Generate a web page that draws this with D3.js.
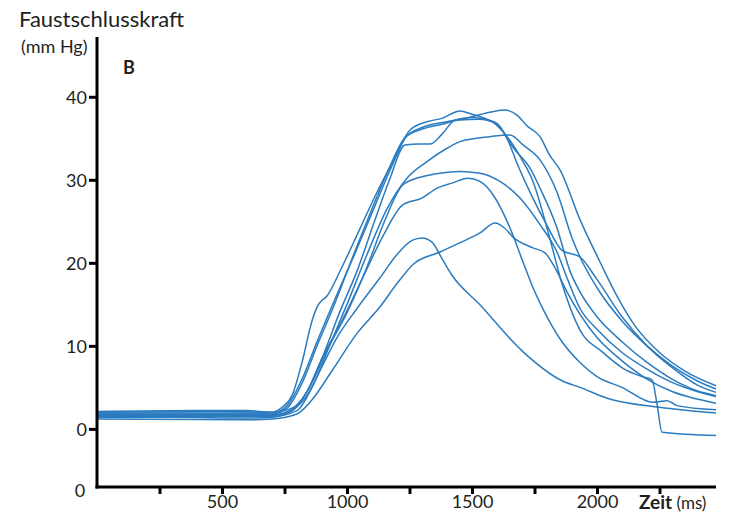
<!DOCTYPE html>
<html><head><meta charset="utf-8">
<script src="https://cdn.jsdelivr.net/npm/d3@7"></script>
<style>
body{margin:0;background:#fff;}
text{font-family:Lato,"Open Sans",sans-serif;fill:#231f20;}
</style></head>
<body><svg id="c" width="729" height="513"></svg>
<script>
// time (ms) vs. Faustschlusskraft (mm Hg), one array per trial
const trialA = [[0,1.4],[300,1.4],[600,1.3],[700,1.4],[780,2.2],[840,4],[900,7.5],[960,11],[1040,14.5],[1132,18.2],[1200,21],[1260,22.7],[1300,23],[1340,22.5],[1380,20.5],[1420,18.5],[1530,15],[1700,9.4],[1860,5.8],[1932,5.0],[2040,3.7],[2250,2.6],[2476,1.9]];
const trialB = [[0,1.2],[600,1.1],[700,1.2],[800,1.8],[860,3.5],[940,7],[1040,11.5],[1132,14.7],[1200,17.5],[1264,19.8],[1372,21.3],[1450,22.4],[1532,23.6],[1592,24.8],[1630,24.2],[1664,23.1],[1744,21.8],[1792,21.2],[1830,19.5],[1880,16.5],[1932,13.8],[2000,11],[2100,8.2],[2200,6],[2300,4.5],[2400,3.6],[2476,3.1]];
const trialC = [[0,2.1],[400,2.2],[600,2.2],[700,2.0],[780,2.5],[840,4.5],[900,8.5],[980,13],[1060,18],[1140,23],[1224,27],[1300,27.8],[1360,29],[1420,29.6],[1484,30.2],[1532,29.8],[1584,28.2],[1652,24.2],[1704,20.1],[1744,17],[1800,13.5],[1860,10.5],[1932,8.0],[2000,6.3],[2100,5],[2224,3.2],[2280,3.4],[2320,2.8],[2476,2.3]];
const trialD = [[0,1.7],[700,1.7],[790,2.5],[850,5],[920,9.5],[1000,14],[1080,19.5],[1150,25],[1224,29.4],[1304,30.4],[1372,30.8],[1450,31],[1532,30.8],[1612,29.8],[1692,27.8],[1772,24.6],[1840,21.3],[1880,18.2],[1932,14.5],[2000,12],[2100,9.2],[2200,7.2],[2300,5.6],[2400,4.5],[2476,3.9]];
const trialE = [[0,1.5],[700,1.5],[800,2.2],[860,5],[930,10],[1000,15],[1080,21],[1160,26.5],[1240,30.2],[1320,32.2],[1400,33.8],[1452,34.6],[1572,35.2],[1652,35.4],[1704,34.2],[1772,32.4],[1840,28.5],[1900,23],[1932,20.7],[2000,17],[2100,13],[2200,10],[2300,7.6],[2400,5.8],[2476,4.8]];
const trialF = [[0,2.0],[500,2.1],[700,2.0],[740,2.6],[780,4],[820,8],[860,13],[884,14.9],[920,16],[980,19.5],[1050,24],[1120,28.5],[1180,32],[1252,36],[1320,37],[1380,37.4],[1452,38.3],[1500,37.9],[1532,37.6],[1612,36.3],[1664,33.9],[1732,31.4],[1772,29],[1840,24.2],[1892,19],[1932,16.5],[2000,13.5],[2100,10.5],[2200,8],[2300,6],[2400,4.6],[2476,4.0]];
const trialG = [[0,1.9],[700,1.9],[760,2.8],[820,6],[880,10.5],[950,15.5],[1030,21],[1100,26],[1170,31],[1240,35.3],[1300,36.3],[1400,37],[1500,37.6],[1580,38.2],[1632,38.4],[1680,37.8],[1720,36.5],[1772,35.2],[1810,33],[1852,31.2],[1932,25.2],[2012,20.1],[2080,16],[2150,12.5],[2250,9.2],[2350,7],[2476,5.2]];
const trialH = [[0,1.6],[700,1.6],[780,2.2],[840,4.5],[900,8.5],[970,14],[1040,19],[1110,25],[1170,30],[1232,34.2],[1290,34.3],[1332,34.3],[1380,35.5],[1432,37.2],[1500,37.5],[1560,37.2],[1600,36.8],[1640,35],[1680,32],[1740,28],[1800,24.5],[1860,21.5],[1932,20.7],[2000,18],[2100,13.5],[2200,10],[2300,7.4],[2400,5.3],[2476,4.4]];
const trialI = [[0,1.8],[700,1.8],[760,2.5],[820,5.5],[880,10],[950,15],[1020,20.5],[1100,26.5],[1170,31.5],[1230,35],[1290,36],[1380,36.7],[1450,37.2],[1530,37.3],[1580,37],[1624,35.8],[1704,32.2],[1744,29.8],[1800,24.2],[1860,17.5],[1932,11.9],[2020,9.3],[2104,7.3],[2180,6.3],[2220,5.9],[2240,3],[2260,-0.4],[2476,-0.8]];
const trials = [trialA, trialB, trialC, trialD, trialE, trialF, trialG, trialH, trialI];

const yTicks = [0, 10, 20, 30, 40];
const xMajorTicks = [500, 1000, 1500, 2000];
const xAllTicks = [250, 500, 750, 1000, 1250, 1500, 1750, 2000, 2250];
const xDomain = [0, 2476];
const yDomain = [-7, 47.2];

const svg = d3.select("#c");
const x = d3.scaleLinear().domain(xDomain).range([97, 716]);
const y = d3.scaleLinear().domain(yDomain).range([487, 37]);

const line = d3.line().x(d => x(d[0])).y(d => y(d[1])).curve(d3.curveMonotoneX);
svg.append("g").selectAll("path").data(trials).join("path")
  .attr("d", line).attr("fill", "none")
  .attr("stroke", "#2a7bbf").attr("stroke-width", 1.5).attr("stroke-linejoin","round");

// y axis
const yAxis = d3.axisLeft(y).tickValues(yTicks).tickSize(8).tickPadding(2).tickFormat(d3.format("d"));
const gy = svg.append("g").attr("transform", `translate(${x(0)},0)`).call(yAxis);
gy.select(".domain").remove();
gy.selectAll(".tick line").attr("stroke", "#000").attr("stroke-width", 3);
gy.selectAll(".tick text").attr("font-size", 18).attr("fill","#231f20").attr("dy","0.35em");
svg.append("line").attr("x1", x(0)).attr("x2", x(0)).attr("y1", y(yDomain[1])).attr("y2", y(yDomain[0]) + 1.5)
  .attr("stroke", "#000").attr("stroke-width", 3);

// x axis
const xAxis = d3.axisBottom(x).tickValues(xAllTicks).tickSize(7).tickPadding(1)
  .tickFormat(d => xMajorTicks.includes(d) ? d : "");
const gx = svg.append("g").attr("transform", `translate(0,${y(yDomain[0])})`).call(xAxis);
gx.select(".domain").remove();
gx.selectAll(".tick line").attr("stroke", "#000").attr("stroke-width", 3);
gx.selectAll(".tick text").attr("font-size", 18).attr("fill","#231f20");
svg.append("line").attr("x1", x(0) - 1.5).attr("x2", x(xDomain[1])).attr("y1", y(yDomain[0])).attr("y2", y(yDomain[0]))
  .attr("stroke", "#000").attr("stroke-width", 3);

// labels
svg.append("text").attr("x", 19).attr("y", 27).attr("font-size", 22).text("Faustschlusskraft");
svg.append("text").attr("x", 21).attr("y", 53).attr("font-size", 18).text("(mm Hg)");
svg.append("text").attr("x", 123).attr("y", 74).attr("font-size", 18).attr("font-weight", "bold").text("B");
svg.append("text").attr("x", 80).attr("y", y(yDomain[0]) + 4).attr("dy","0.35em").attr("text-anchor","middle").attr("font-size", 18).text("0");
const xl = svg.append("text").attr("x", 639).attr("y", 509).attr("font-size", 19);
xl.append("tspan").attr("font-weight", "bold").text("Zeit");
xl.append("tspan").attr("font-size", 17).text(" (ms)");
</script></body></html>
